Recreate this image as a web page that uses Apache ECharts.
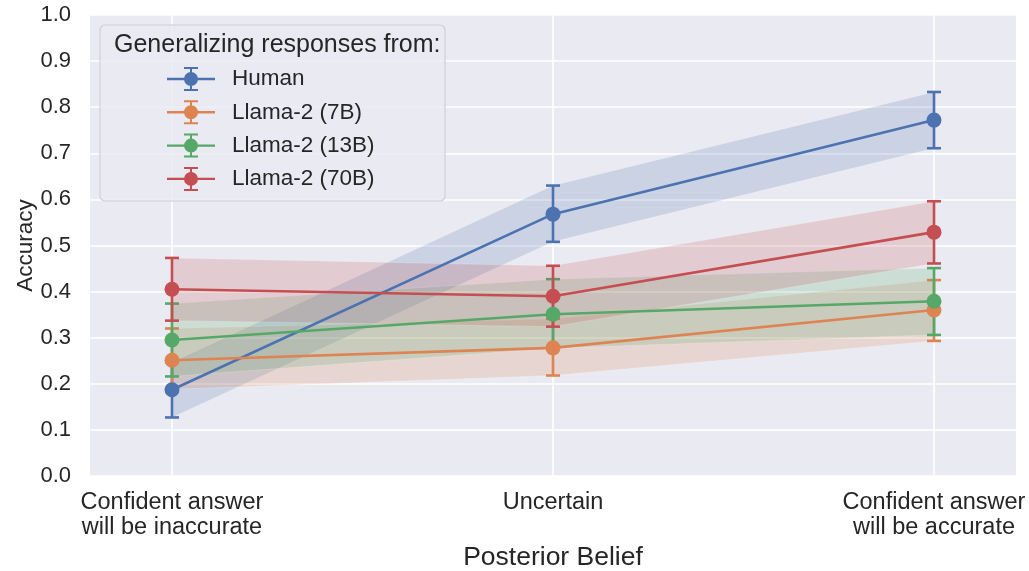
<!DOCTYPE html>
<html>
<head>
<meta charset="utf-8">
<script src="https://cdn.jsdelivr.net/npm/echarts@6/dist/echarts.min.js"></script>
<style>
  html, body { margin: 0; padding: 0; background: #fff; }
  #chart { width: 1029px; height: 571px; }
</style>
</head>
<body>
<div id="chart"></div>
<script>
// categories on the x axis (positions 0, 1, 2)
const categories = ['Confident answer\nwill be inaccurate', 'Uncertain', 'Confident answer\nwill be accurate']
const yTicks = [0, 0.1, 0.2, 0.3, 0.4, 0.5, 0.6, 0.7, 0.8, 0.9, 1.0]

const seriesNames = ['Human', 'Llama-2 (7B)', 'Llama-2 (13B)', 'Llama-2 (70B)']
const colors = ['#4C72B0', '#DD8452', '#55A868', '#C44E52']

// mean accuracy and CI bounds per group
const humanMean = [0.187, 0.568, 0.772]
const humanLow = [0.127, 0.508, 0.711]
const humanHigh = [0.247, 0.630, 0.833]

const llama7Mean = [0.251, 0.278, 0.360]
const llama7Low = [0.188, 0.218, 0.293]
const llama7High = [0.320, 0.341, 0.425]

const llama13Mean = [0.295, 0.351, 0.379]
const llama13Low = [0.216, 0.277, 0.306]
const llama13High = [0.374, 0.427, 0.451]

const llama70Mean = [0.405, 0.390, 0.529]
const llama70Low = [0.337, 0.324, 0.461]
const llama70High = [0.473, 0.456, 0.596]

const groups = [
  { mean: humanMean, low: humanLow, high: humanHigh },
  { mean: llama7Mean, low: llama7Low, high: llama7High },
  { mean: llama13Mean, low: llama13Low, high: llama13High },
  { mean: llama70Mean, low: llama70Low, high: llama70High }
]

const FONT = '"Liberation Sans", Arial, Helvetica, sans-serif'
const TEXT = '#262626'

// legend icon: line + dot + error bar
const errIcon = 'path://M0 10.8H48V13.2H0Z' +
  'M17 0H31V2H17Z M17 22H31V24H17Z M23 0H25V24H23Z' +
  'M31 12A7 7 0 1 1 17 12A7 7 0 1 1 31 12Z'

function hexA(hex, a) {
  const n = parseInt(hex.slice(1), 16)
  return 'rgba(' + (n >> 16) + ',' + ((n >> 8) & 255) + ',' + (n & 255) + ',' + a + ')'
}

const series = []

// vertical grid lines at category positions
series.push({
  type: 'custom',
  silent: true,
  z: 1,
  data: categories.map((c, i) => [i]),
  renderItem(params, api) {
    const top = api.coord([api.value(0), 1])
    const bot = api.coord([api.value(0), 0])
    return {
      type: 'line',
      shape: { x1: top[0], y1: top[1], x2: bot[0], y2: bot[1] },
      style: { stroke: '#ffffff', lineWidth: 1.6 }
    }
  }
})

groups.forEach((g, gi) => {
  const color = colors[gi]
  // CI band
  series.push({
    type: 'custom',
    silent: true,
    data: g.mean.map((m, i) => [i, g.low[i], g.high[i]]),
    renderItem(params, api) {
      const i = params.dataIndex
      if (i >= g.mean.length - 1) return null
      const p1 = api.coord([i, g.low[i]])
      const p2 = api.coord([i + 1, g.low[i + 1]])
      const p3 = api.coord([i + 1, g.high[i + 1]])
      const p4 = api.coord([i, g.high[i]])
      return {
        type: 'polygon',
        shape: { points: [p1, p2, p3, p4] },
        style: { fill: hexA(color, 0.2), stroke: 'rgba(255,255,255,0.25)', lineWidth: 0.8 }
      }
    }
  })
  // mean line
  series.push({
    name: seriesNames[gi],
    type: 'line',
    data: g.mean.map((m, i) => [i, m]),
    symbol: 'circle',
    symbolSize: 15,
    showSymbol: true,
    color: color,
    lineStyle: { width: 2.6, color: color },
    itemStyle: { color: color },
    emphasis: { disabled: true },
    animation: false
  })
  // error bars
  series.push({
    type: 'custom',
    silent: true,
    data: g.mean.map((m, i) => [i, g.low[i], g.high[i]]),
    renderItem(params, api) {
      const lo = api.coord([api.value(0), api.value(1)])
      const hi = api.coord([api.value(0), api.value(2)])
      const st = { stroke: color, lineWidth: 2.6 }
      return {
        type: 'group',
        children: [
          { type: 'line', shape: { x1: lo[0], y1: lo[1], x2: hi[0], y2: hi[1] }, style: st },
          { type: 'line', shape: { x1: lo[0] - 7, y1: lo[1], x2: lo[0] + 7, y2: lo[1] }, style: st },
          { type: 'line', shape: { x1: hi[0] - 7, y1: hi[1], x2: hi[0] + 7, y2: hi[1] }, style: st }
        ]
      }
    }
  })
})

const chart = echarts.init(document.getElementById('chart'))
chart.setOption({
  animation: false,
  textStyle: { fontFamily: FONT },
  grid: {
    left: 90, right: 13, top: 15, bottom: 95,
    outerBoundsMode: 'none',
    containLabel: false,
    show: true, backgroundColor: '#EAEAF2', borderWidth: 0
  },
  xAxis: {
    type: 'value',
    min: -0.2152,
    max: 2.2152,
    name: 'Posterior Belief',
    nameLocation: 'middle',
    nameGap: 68,
    nameMoveOverlap: false,
    nameTextStyle: { fontSize: 26.5, color: TEXT, fontFamily: FONT },
    axisLine: { show: false },
    axisTick: { show: false },
    splitLine: { show: false },
    axisLabel: {
      customValues: [0, 1, 2],
      formatter: v => categories[Math.round(v)],
      fontSize: 23.5,
      lineHeight: 25,
      margin: 14,
      color: TEXT,
      fontFamily: FONT
    }
  },
  yAxis: {
    type: 'value',
    min: 0,
    max: 1,
    interval: 0.1,
    name: 'Accuracy',
    nameLocation: 'middle',
    nameGap: 53,
    nameMoveOverlap: false,
    nameTextStyle: { fontSize: 22.5, color: TEXT, fontFamily: FONT },
    axisLine: { show: false },
    axisTick: { show: false },
    splitLine: { lineStyle: { color: '#ffffff', width: 1.6 } },
    axisLabel: {
      customValues: yTicks,
      formatter: v => v.toFixed(1),
      fontSize: 22,
      margin: 19,
      color: TEXT,
      fontFamily: FONT
    }
  },
  graphic: [
    {
      type: 'rect',
      z: 100,
      shape: { x: 100, y: 25, width: 345, height: 176, r: 5 },
      style: { fill: 'rgba(234,234,242,0.85)', stroke: '#cfcfd6', lineWidth: 1.2 }
    },
    {
      type: 'text',
      z: 101,
      x: 114,
      y: 45,
      style: {
        text: 'Generalizing responses from:',
        font: '25px ' + FONT,
        fill: TEXT,
        verticalAlign: 'middle'
      }
    }
  ],
  legend: {
    z: 102,
    orient: 'vertical',
    left: 167,
    top: 67,
    itemWidth: 48,
    itemHeight: 24,
    itemGap: 9.3,
    padding: 0,
    data: seriesNames.map((n, i) => ({ name: n, icon: errIcon, itemStyle: { color: colors[i] } })),
    textStyle: { fontSize: 22.5, color: TEXT, fontFamily: FONT, padding: [0, 0, 0, 12] },
    selectedMode: false
  },
  series: series
})
</script>
</body>
</html>
